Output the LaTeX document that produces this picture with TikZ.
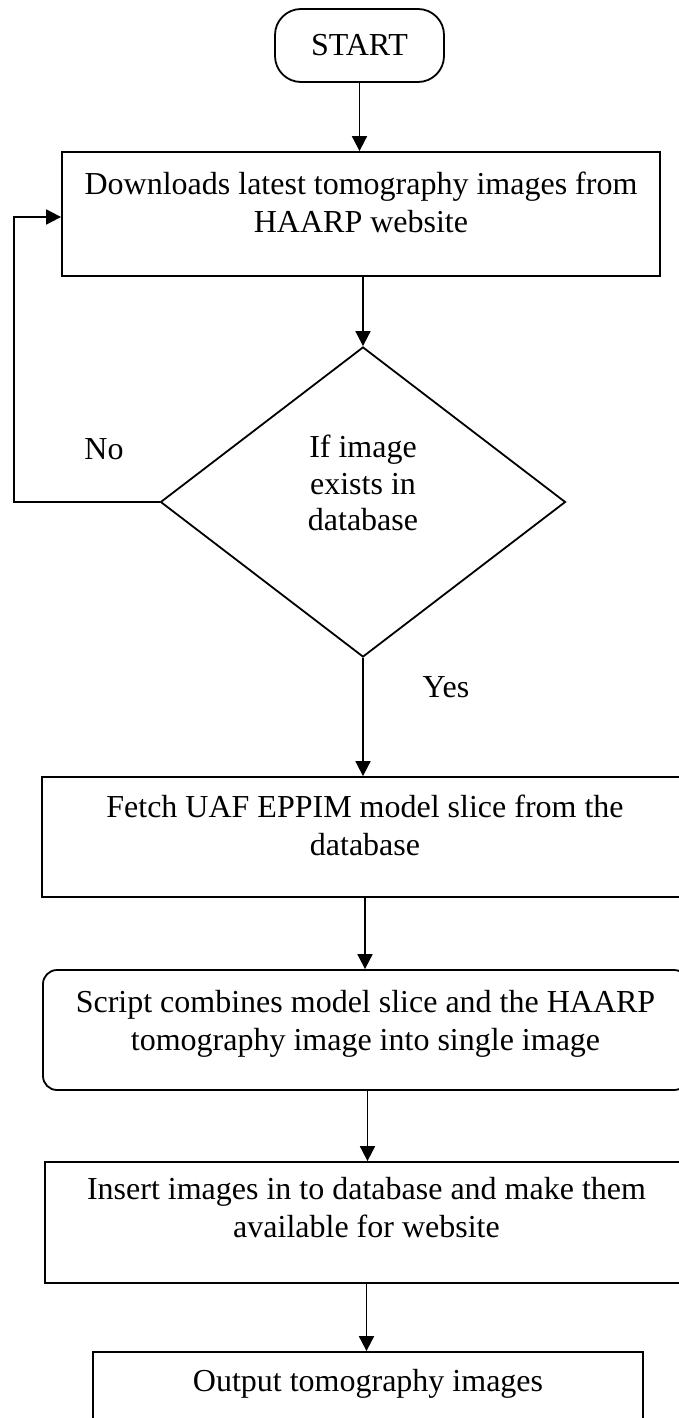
\documentclass[tikz,border=0pt]{standalone}
\usepackage{fontspec}
\setmainfont{Liberation Serif}
\usetikzlibrary{arrows.meta,shapes.geometric}
\tikzset{
  stroke/.style={line width=1.8pt},
  box/.style={draw, stroke, rectangle, inner sep=0pt},
  label text/.style={font=\fontsize{32}{38}\selectfont, align=center, inner sep=0pt},
  flow/.style={stroke, -{Triangle[length=15pt,width=15pt]}},
}
\begin{document}
\begin{tikzpicture}[x=1pt, y=-1pt]
  \clip (0,0) rectangle (679,1418);
  \fill[white] (0,0) rectangle (679,1418);

  % terminator
  \node[box, rounded corners=26pt, minimum width=169pt, minimum height=73pt,
        font=\fontsize{32}{38}\selectfont] (start) at (359.5,45.5) {START};

  % download step
  \node[box, minimum width=598pt, minimum height=124pt] (b1) at (361,214) {};
  \node[label text, anchor=north] (b1t) at ([yshift=-21pt]b1.north)
    {Downloads latest tomography images from\\HAARP website};

  % decision
  \node[draw, stroke, diamond, minimum width=405pt, minimum height=310pt,
        inner sep=0pt] (dia) at (363,502) {};
  \node[label text, anchor=north, font=\fontsize{32}{36.5}\selectfont] (diat) at (363,435)
    {If image\\exists in\\database};
  \node[label text, anchor=base] (no) at (104,459) {No};
  \node[label text, anchor=base] (yes) at (446,697) {Yes};

  % fetch step
  \node[box, minimum width=646pt, minimum height=120pt] (b2) at (365,837) {};
  \node[label text, anchor=north] (b2t) at ([yshift=-19pt]b2.north)
    {Fetch UAF EPPIM model slice from the\\database};

  % combine step
  \node[box, rounded corners=14pt, minimum width=645pt, minimum height=120pt] (b3) at (365.5,1030) {};
  \node[label text, anchor=north] (b3t) at ([yshift=-21pt]b3.north)
    {Script combines model slice and the HAARP\\tomography image into single image};

  % insert step
  \node[box, minimum width=643pt, minimum height=121pt] (b4) at (366.5,1222.5) {};
  \node[label text, anchor=north] (b4t) at ([yshift=-16pt]b4.north)
    {Insert images in to database and make them\\available for website};

  % output
  \node[box, minimum width=550pt, minimum height=128pt] (b5) at (368,1416) {};
  \node[label text, anchor=north] (b5t) at ([yshift=-18pt]b5.north)
    {Output tomography images};

  % connectors
  \draw[flow] (start.south) -- (start.south |- b1.north);
  \draw[flow] (dia.north |- b1.south) -- (dia.north);
  \draw[flow] (dia.south) -- (dia.south |- b2.north);
  \draw[flow] (b2.south) -- (b2.south |- b3.north);
  \draw[flow] ([xshift=2pt]b3.south) -- ([xshift=2pt]b3.south |- b4.north);
  \draw[flow] (b4.south) -- (b4.south |- b5.north);

  % loop back when the image is new
  \coordinate (lp) at (14,217);
  \draw[flow] (dia.west) -| (lp) -- (lp -| b1.west);
\end{tikzpicture}
\end{document}
